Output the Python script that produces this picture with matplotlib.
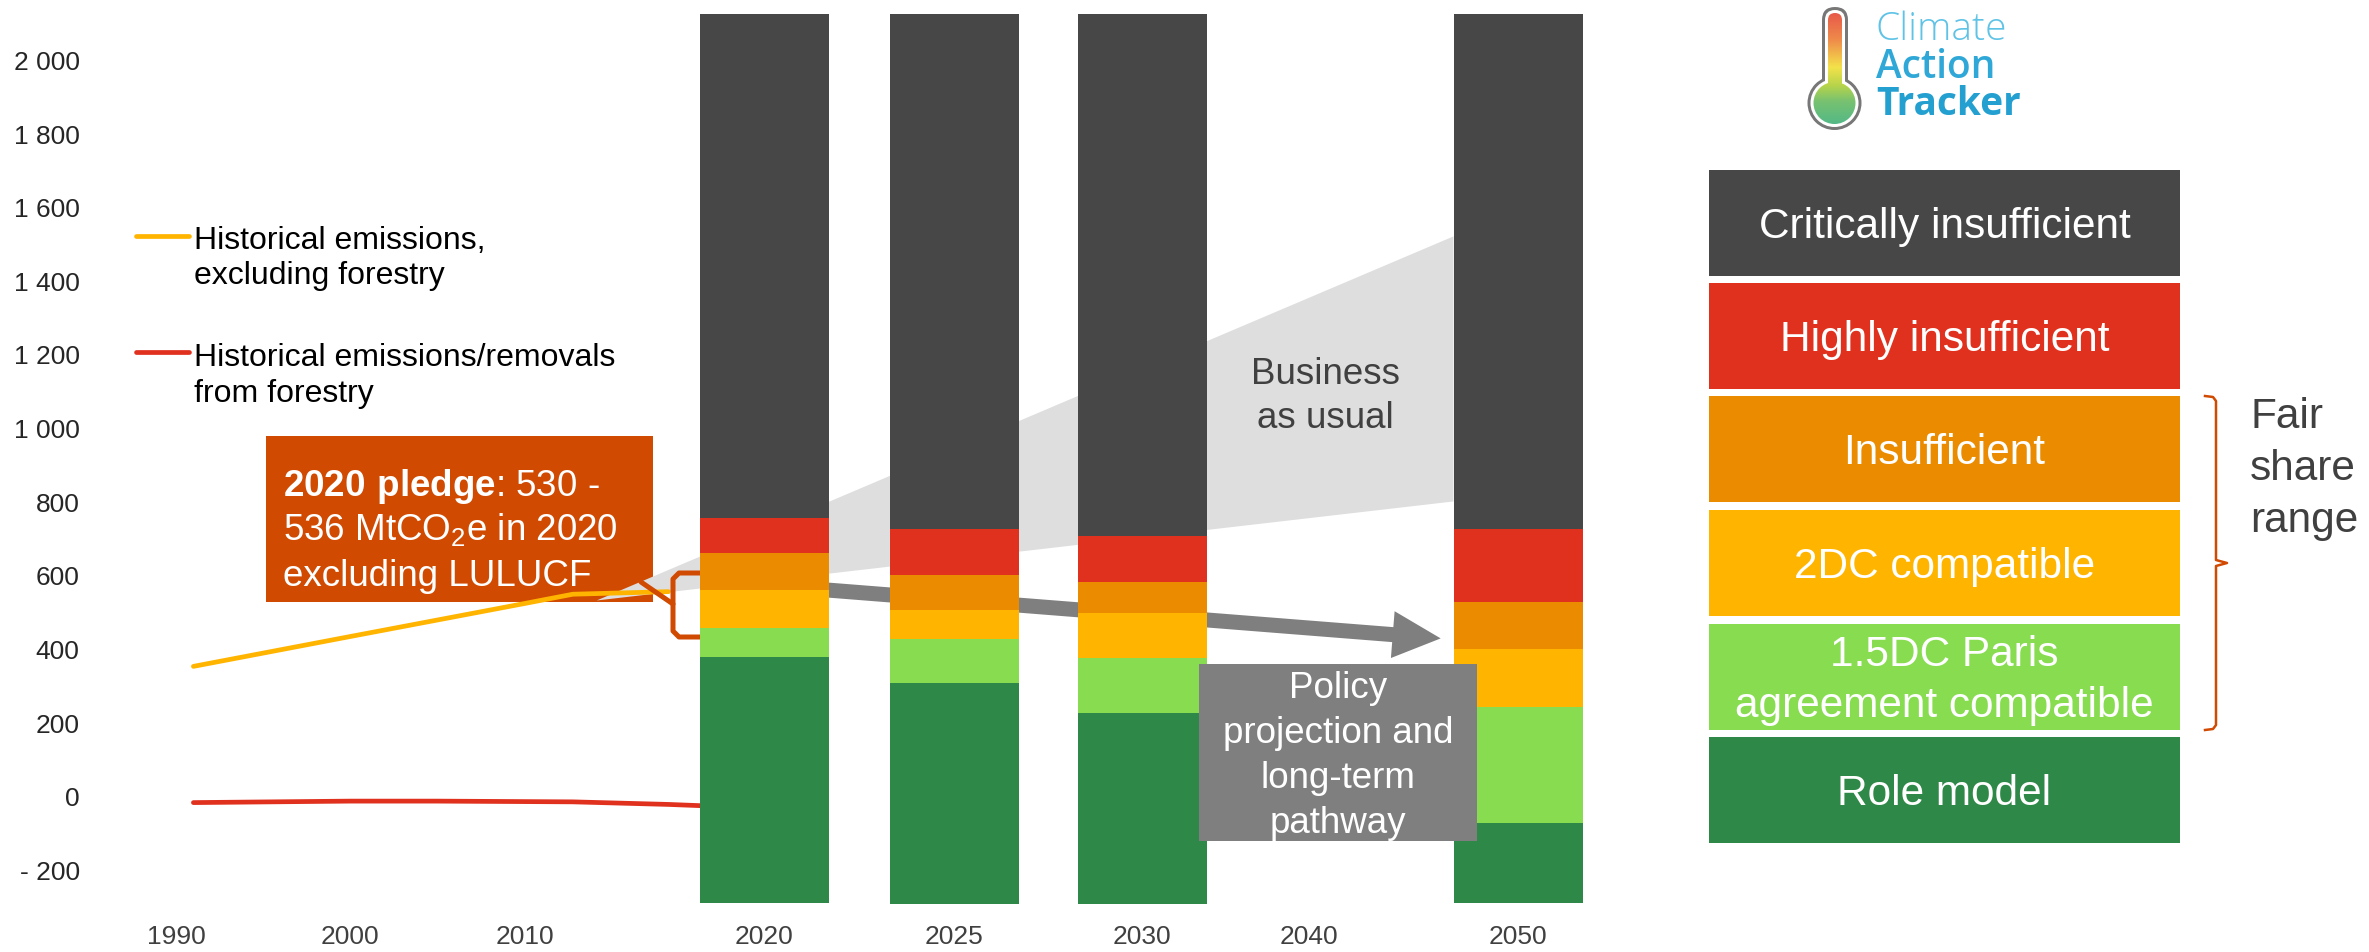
import numpy as np
import matplotlib
matplotlib.use("Agg")
import matplotlib.pyplot as plt
from matplotlib.patches import Rectangle, FancyBboxPatch, Circle, FancyArrowPatch, ArrowStyle
from matplotlib.colors import LinearSegmentedColormap

plt.rcParams["font.family"] = ["Liberation Sans", "DejaVu Sans"]
plt.rcParams["mathtext.fontset"] = "custom"
plt.rcParams["mathtext.rm"] = "Liberation Sans"
plt.rcParams["mathtext.bf"] = "Liberation Sans:bold"

W, H = 2369, 952

# ---- data ----
tick_years = [1990, 2000, 2010, 2020, 2025, 2030, 2040, 2050]
tick_x = [176, 350, 525, 764, 954, 1142, 1309, 1518]  # layout: slot centres

hist_years = [1991, 1995, 2000, 2005, 2010, 2012, 2016]
hist_excl_forestry = [354, 390, 435, 480, 525, 550, 557]
forestry_years = [1991, 2000, 2005, 2012, 2016, 2018]
forestry = [-16, -12, -12, -14, -21, -26]

bar_years = [2020, 2025, 2030, 2050]
band_bottom = [-288, -292, -292, -288]
role_model_top = [380, 310, 228, -71]
paris_15_top = [459, 428, 378, 245]
compat_2_top = [562, 508, 500, 402]
insufficient_top = [663, 601, 582, 530]
highly_top = [758, 726, 709, 726]
critically_top = [2127, 2127, 2127, 2127]

bau_start_year = 2013
bau_start = 533
bau_2050 = [802, 1522]

policy_years = [2020, 2046.3]
policy_values = [575, 430]

rating_labels = ["Critically insufficient", "Highly insufficient", "Insufficient",
                 "2DC compatible", "1.5DC Paris\nagreement compatible", "Role model"]
rating_colors = ["#474747", "#E0311F", "#EA8B00", "#FFB500", "#88DC50", "#2E8847"]

y_ticks = list(range(-200, 2001, 200))

YELLOW = "#FFB400"
RED = "#E0311F"
PLEDGE = "#D04A02"
GREY_TXT = "#404040"


def x_of(years):
    return np.interp(years, tick_years, tick_x)


def fmt_tick(v):
    s = f"{abs(v):,}".replace(",", " ")
    return "- " + s if v < 0 else s


fig = plt.figure(figsize=(W / 100, H / 100), dpi=100)

# main data axes (x in slot units, y in MtCO2e)
ax_l, ax_r, ax_t, ax_b = 95, 1600, 0, 910
zero_px, ppu = 796.7, 0.36814
ax = fig.add_axes([ax_l / W, 1 - ax_b / H, (ax_r - ax_l) / W, (ax_b - ax_t) / H])
ax.set_facecolor("none")
for s in ax.spines.values():
    s.set_visible(False)

# overlay in pixel units for annotations / legend
ov = fig.add_axes([0, 0, 1, 1], zorder=3)
ov.set_autoscale_on(False)
ov.set_xlim(0, W)
ov.set_ylim(H, 0)
ov.axis("off")
px = ov.transData

# pledge box (behind lines)
ax.add_patch(Rectangle((266, 436), 387, 166, transform=px, facecolor=PLEDGE,
                       edgecolor="none", zorder=1))
pledge_lines = [r"$\mathbf{2020\ pledge}$: 530 -", r"536 MtCO$_2$e in 2020", "excluding LULUCF"]
for i, line in enumerate(pledge_lines):
    ax.text(283, 496 + 45 * i, line, transform=px, color="white", fontsize=26.5,
            va="baseline", ha="left", zorder=1.5)

# business as usual wedge
x_bau_end = x_of(2050) - 129 / 2
ax.fill([x_of(bau_start_year), x_bau_end, x_bau_end], [bau_start, bau_2050[1], bau_2050[0]],
        color="#DEDEDE", lw=0, zorder=2)
ax.text(1325, 384, "Business", transform=px, color=GREY_TXT, fontsize=26.5,
        ha="center", va="baseline", zorder=2.5)
ax.text(1325, 428, "as usual", transform=px, color=GREY_TXT, fontsize=26.5,
        ha="center", va="baseline", zorder=2.5)

# historical lines
ax.plot(x_of(hist_years), hist_excl_forestry, color=YELLOW, lw=3.4,
        solid_capstyle="round", zorder=3)
ax.plot(x_of(forestry_years), forestry, color=RED, lw=3.4,
        solid_capstyle="round", zorder=3)

# pledge bracket
ax.plot([641, 673], [582, 604], transform=px, color=PLEDGE, lw=3.6,
        solid_capstyle="round", zorder=3)
ax.plot([700, 679, 673, 673, 679, 700], [573, 573, 579, 631, 637, 637], transform=px,
        color=PLEDGE, lw=3.6, solid_joinstyle="round", zorder=3)

# policy projection arrow (behind bars)
ax.add_patch(FancyArrowPatch((x_of(policy_years[0]), policy_values[0]),
                             (x_of(policy_years[1]), policy_values[1]),
                             arrowstyle=ArrowStyle.Simple(head_length=34.6, head_width=33.8,
                                                          tail_width=10.8),
                             mutation_scale=1, shrinkA=0, shrinkB=0,
                             color="#7F7F7F", lw=0, zorder=3.5))

# stacked rating bars
bx = x_of(bar_years)
bounds = [band_bottom, role_model_top, paris_15_top, compat_2_top,
          insufficient_top, highly_top, critically_top]
band_colors = rating_colors[::-1]
for k in range(6):
    lo = np.array(bounds[k])
    hi = np.array(bounds[k + 1])
    ax.bar(bx, hi - lo, bottom=lo, width=129, color=band_colors[k], lw=0, zorder=4)

ax.set_xlim(ax_l, ax_r)
ax.set_ylim((zero_px - ax_b) / ppu, zero_px / ppu)
ax.set_xticks(tick_x, [str(y) for y in tick_years])
ax.set_yticks(y_ticks, [fmt_tick(v) for v in y_ticks])
ax.tick_params(axis="x", length=0, pad=11, labelsize=19, labelcolor=GREY_TXT)
ax.tick_params(axis="y", length=0, pad=11, labelsize=19, labelcolor="#262626")

# policy box (above bars)
ov.add_patch(Rectangle((1199, 664), 278, 177, facecolor="#7F7F7F", edgecolor="none", zorder=5))
for i, line in enumerate(["Policy", "projection and", "long-term", "pathway"]):
    ov.text(1338, 698 + 45 * i, line, color="white", fontsize=26.5,
            ha="center", va="baseline", zorder=6)

# historical legend
ov.plot([136, 189], [236, 236], color=YELLOW, lw=3.4, solid_capstyle="round")
ov.plot([136, 189], [352, 352], color=RED, lw=3.4, solid_capstyle="round")
for y, t in [(249, "Historical emissions,"), (284, "excluding forestry"),
             (366, "Historical emissions/removals"), (402, "from forestry")]:
    ov.text(194, y, t, fontsize=23, color="black", va="baseline", ha="left")

# rating legend
box_tops = [170, 283, 396, 510, 624, 737]
for top, lab, col in zip(box_tops, rating_labels, rating_colors):
    ov.add_patch(Rectangle((1709, top), 471, 106, facecolor=col, edgecolor="none"))
    lines = lab.split("\n")
    if len(lines) == 1:
        ov.text(1944.5, top + 53 + 15, lines[0], color="white", fontsize=30.5,
                ha="center", va="baseline")
    else:
        ov.text(1944.5, top + 42, lines[0], color="white", fontsize=30.5,
                ha="center", va="baseline")
        ov.text(1944.5, top + 93, lines[1], color="white", fontsize=30.5,
                ha="center", va="baseline")

# fair share brace
ov.plot([2205, 2213, 2216, 2216, 2227, 2216, 2216, 2213, 2205],
        [396, 397, 401, 560, 563, 566, 725, 729, 730],
        color=PLEDGE, lw=1.8, solid_joinstyle="round")
for i, t in enumerate(["Fair", "share", "range"]):
    ov.text(2250, 428 + 52 * i, t, color=GREY_TXT, fontsize=30.5, va="baseline", ha="left")

# logo: thermometer
ov.add_patch(FancyBboxPatch((1822, 7), 26, 85, boxstyle="round,pad=0,rounding_size=13",
                            facecolor="#777777", edgecolor="none"))
ov.add_patch(Circle((1834.5, 103), 27, facecolor="#777777", edgecolor="none"))
ov.add_patch(FancyBboxPatch((1825, 10), 20, 85, boxstyle="round,pad=0,rounding_size=10",
                            facecolor="white", edgecolor="none"))
ov.add_patch(Circle((1834.5, 103), 24, facecolor="white", edgecolor="none"))
therm_cmap = LinearSegmentedColormap.from_list(
    "therm", [(0, "#E8594A"), (0.24, "#EF8C4A"), (0.48, "#F4E24A"),
              (0.64, "#B8D44A"), (0.78, "#78C270"), (1, "#50B888")])
grad = np.linspace(0, 1, 256).reshape(-1, 1)
clips = [FancyBboxPatch((1828, 13), 14, 80, boxstyle="round,pad=0,rounding_size=7",
                        facecolor="none", edgecolor="none"),
         Circle((1834.5, 103), 21, facecolor="none", edgecolor="none")]
for cp in clips:
    ov.add_patch(cp)
    im = ov.imshow(grad, cmap=therm_cmap, extent=(1805, 1865, 126, 13), aspect="auto",
                   interpolation="bilinear", zorder=2)
    im.set_clip_path(cp)

ov.text(1876, 40, "Climate", fontfamily=["Open Sans", "DejaVu Sans"], fontweight="light",
        fontsize=28, color="#5FC3E6", va="baseline", ha="left")
ov.text(1876, 78, "Action", fontfamily=["Open Sans", "DejaVu Sans"], fontweight="semibold",
        fontsize=28, color="#2FA8D8", va="baseline", ha="left")
ov.text(1876, 115, "Tracker", fontfamily=["Open Sans", "DejaVu Sans"], fontweight="bold",
        fontsize=28, color="#239FD0", va="baseline", ha="left")

ov.set_xlim(0, W)
ov.set_ylim(H, 0)

fig.savefig("out.png", dpi=100)
